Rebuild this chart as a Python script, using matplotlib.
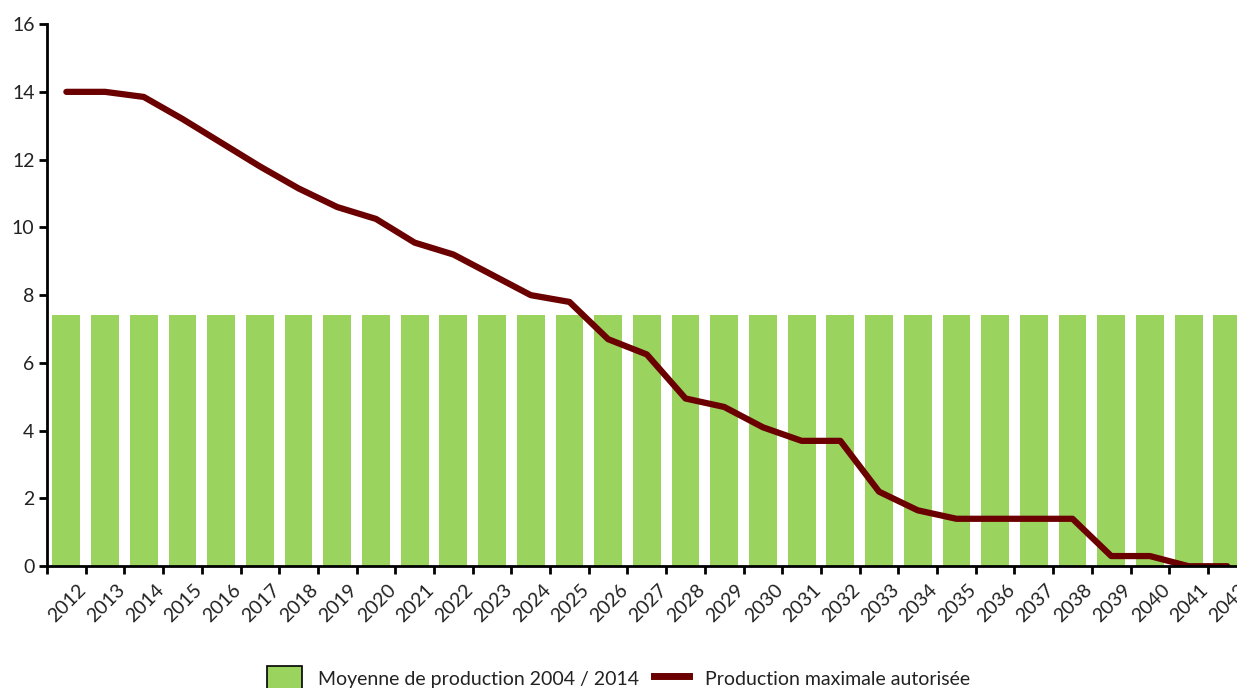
import matplotlib.pyplot as plt
import matplotlib.transforms as mtransforms
import numpy as np
from matplotlib.patches import Patch
from matplotlib.lines import Line2D

plt.rcParams['font.family'] = ['Lato', 'DejaVu Sans']

# years on the x axis
years = [str(y) for y in range(2012, 2043)]

# average production 2004 / 2014 (same value each year)
moyenne = [7.4] * len(years)

# maximum allowed production per year
production_max = [14.0, 14.0, 13.85, 13.2, 12.5, 11.8, 11.15, 10.6, 10.25, 9.55,
                  9.2, 8.6, 8.0, 7.8, 6.7, 6.25, 4.95, 4.7, 4.1, 3.7,
                  3.7, 2.2, 1.65, 1.4, 1.4, 1.4, 1.4, 0.3, 0.3, 0.0, 0.0]

green = '#9ad35e'
maroon = '#6b0000'
text_color = '#222222'

fig = plt.figure(figsize=(12.37, 6.88), dpi=100)
ax = fig.add_axes([0.038, 0.177, 0.962, 0.788])

x = np.arange(len(years))
ax.bar(x, moyenne, width=0.72, color=green, zorder=1)
ax.plot(x, production_max, color=maroon, linewidth=4.5,
        solid_capstyle='round', solid_joinstyle='round', zorder=2)

ax.set_xlim(-0.5, 30.25)
ax.set_ylim(0, 16)
ax.set_yticks(np.arange(0, 17, 2))

# labels under each bar, tick marks on the category boundaries
ax.set_xticks(x)
ax.set_xticklabels(years, rotation=45, ha='right', rotation_mode='anchor')
ax.tick_params(axis='x', which='major', length=0, pad=11, labelsize=14,
               labelcolor=text_color)
ax.set_xticks(np.arange(-0.5, 30.5, 1), minor=True)
ax.tick_params(axis='x', which='minor', length=6, width=2, direction='out')
ax.tick_params(axis='y', length=6, width=2, labelsize=14, pad=3,
               labelcolor=text_color)

offset = mtransforms.ScaledTranslation(0.11, 0, fig.dpi_scale_trans)
for lab in ax.get_xticklabels():
    lab.set_transform(lab.get_transform() + offset)

for side in ['top', 'right']:
    ax.spines[side].set_visible(False)
for side in ['left', 'bottom']:
    ax.spines[side].set_linewidth(2)

handles = [Patch(facecolor=green, edgecolor='black', linewidth=1.2),
           Line2D([0], [0], color=maroon, linewidth=5)]
labels = ['Moyenne de production 2004 / 2014', 'Production maximale autorisée']
fig.legend(handles, labels, loc='lower center', bbox_to_anchor=(0.5, -0.03),
           ncol=2, frameon=False, fontsize=14, handlelength=1.8,
           handleheight=1.6, columnspacing=0.8, handletextpad=0.8,
           labelcolor=text_color)

fig.savefig('out.png', dpi=100)
